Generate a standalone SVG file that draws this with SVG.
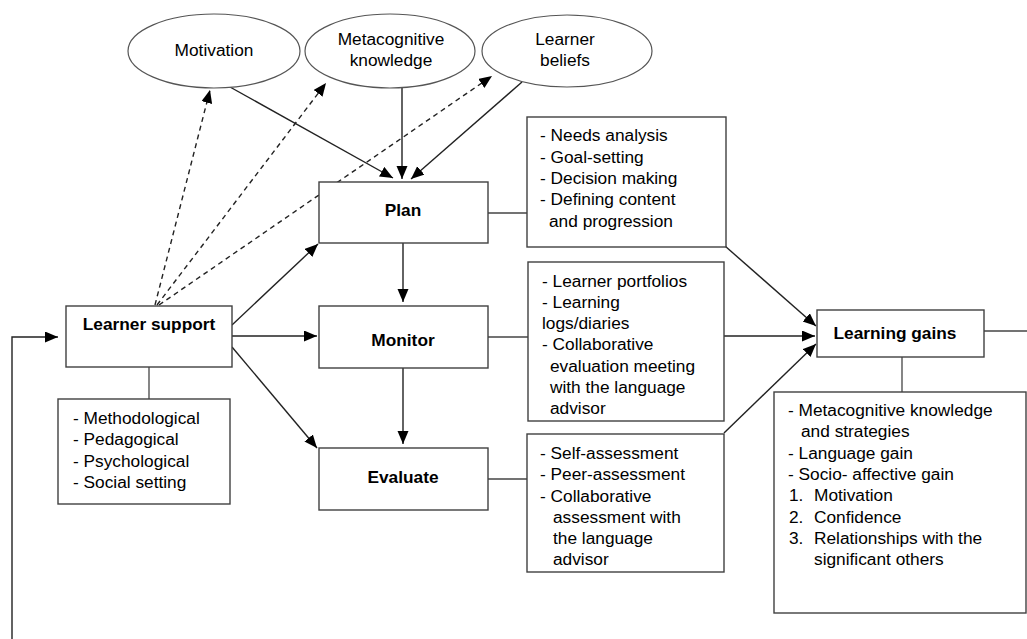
<svg xmlns="http://www.w3.org/2000/svg" width="1027" height="639" viewBox="0 0 1027 639">
<style>
text{font-family:"Liberation Sans",Arial,sans-serif;font-size:17.3px;fill:#000}
.b{font-weight:bold}
.m{text-anchor:middle}
.box{fill:#fff;stroke:#404040;stroke-width:1.4}
.ell{fill:#fff;stroke:#555;stroke-width:1.2}
.c{fill:none;stroke:#222;stroke-width:1.4}
.d{fill:none;stroke:#222;stroke-width:1.4;stroke-dasharray:5 4}
.l{fill:none;stroke:#444;stroke-width:1.3}
</style>
<defs>
<marker id="a" markerUnits="userSpaceOnUse" markerWidth="14" markerHeight="12" refX="13" refY="5.5" orient="auto">
<path d="M0,0 L13,5.5 L0,11 z" fill="#000"/>
</marker>
</defs>
<rect width="1027" height="639" fill="#fff"/>
<g id="connectors">
<line class="d" x1="155" y1="305" x2="210" y2="90" marker-end="url(#a)"/>
<line class="d" x1="157" y1="305" x2="326" y2="83" marker-end="url(#a)"/>
<line class="d" x1="159" y1="305" x2="492" y2="76" marker-end="url(#a)"/>
<line class="c" x1="230" y1="87" x2="393" y2="178" marker-end="url(#a)"/>
<line class="c" x1="402" y1="88" x2="402" y2="179" marker-end="url(#a)"/>
<line class="c" x1="522" y1="82" x2="411" y2="179" marker-end="url(#a)"/>
<line class="c" x1="232" y1="325" x2="318" y2="244" marker-end="url(#a)"/>
<line class="c" x1="232" y1="336" x2="317" y2="336" marker-end="url(#a)"/>
<line class="c" x1="232" y1="347" x2="317" y2="448" marker-end="url(#a)"/>
<line class="c" x1="403" y1="243" x2="403" y2="302" marker-end="url(#a)"/>
<line class="c" x1="403" y1="368" x2="403" y2="444" marker-end="url(#a)"/>
<line class="l" x1="488" y1="213" x2="527" y2="213"/>
<line class="l" x1="488" y1="337" x2="528" y2="337"/>
<line class="l" x1="488" y1="479" x2="527" y2="479"/>
<line class="l" x1="149" y1="367" x2="149" y2="399"/>
<line class="c" x1="725" y1="246" x2="816" y2="326" marker-end="url(#a)"/>
<line class="c" x1="724" y1="336" x2="815" y2="336" marker-end="url(#a)"/>
<line class="c" x1="724" y1="433" x2="816" y2="344" marker-end="url(#a)"/>
<line class="l" x1="902" y1="357" x2="902" y2="392"/>
<line class="l" x1="984" y1="331" x2="1027" y2="331"/>
<polyline class="c" points="12,639 12,337 58,337" stroke="#555" marker-end="url(#a)"/>
</g>
<g id="motivation">
<ellipse class="ell" cx="214" cy="51" rx="86" ry="37"/>
<text class="m" x="214" y="56">Motivation</text>
</g>
<g id="metacognitive">
<ellipse class="ell" cx="390" cy="51" rx="85" ry="37"/>
<text class="m" x="391" y="45">Metacognitive</text>
<text class="m" x="391" y="66">knowledge</text>
</g>
<g id="beliefs">
<ellipse class="ell" cx="567" cy="51" rx="85" ry="36"/>
<text class="m" x="565" y="45">Learner</text>
<text class="m" x="565" y="66">beliefs</text>
</g>
<g id="plan">
<rect class="box" x="319" y="182" width="169" height="61"/>
<text class="m b" x="403" y="216">Plan</text>
</g>
<g id="plan-details">
<rect class="box" x="527" y="117" width="199" height="130"/>
<text x="540" y="141">- Needs analysis</text>
<text x="540" y="163">- Goal-setting</text>
<text x="540" y="184">- Decision making</text>
<text x="540" y="205">- Defining content</text>
<text x="549" y="227">and progression</text>
</g>
<g id="monitor">
<rect class="box" x="319" y="306" width="169" height="62"/>
<text class="m b" x="403" y="346">Monitor</text>
</g>
<g id="monitor-details">
<rect class="box" x="528" y="262" width="196" height="159"/>
<text x="542" y="287">- Learner portfolios</text>
<text x="542" y="308">- Learning</text>
<text x="542" y="329">logs/diaries</text>
<text x="542" y="350">- Collaborative</text>
<text x="550" y="372">evaluation meeting</text>
<text x="550" y="393">with the language</text>
<text x="550" y="414">advisor</text>
</g>
<g id="evaluate">
<rect class="box" x="319" y="448" width="169" height="62"/>
<text class="m b" x="403" y="483">Evaluate</text>
</g>
<g id="evaluate-details">
<rect class="box" x="527" y="434" width="197" height="138"/>
<text x="540" y="459">- Self-assessment</text>
<text x="540" y="480">- Peer-assessment</text>
<text x="540" y="502">- Collaborative</text>
<text x="553" y="523">assessment with</text>
<text x="553" y="544">the language</text>
<text x="553" y="565">advisor</text>
</g>
<g id="learner-support">
<rect class="box" x="66" y="306" width="166" height="61"/>
<text class="m b" x="149" y="330">Learner support</text>
</g>
<g id="support-details">
<rect class="box" x="58" y="399" width="172" height="105"/>
<text x="73" y="424">- Methodological</text>
<text x="73" y="445">- Pedagogical</text>
<text x="73" y="467">- Psychological</text>
<text x="73" y="488">- Social setting</text>
</g>
<g id="learning-gains">
<rect class="box" x="817" y="310" width="167" height="47"/>
<text class="m b" x="895" y="339">Learning gains</text>
</g>
<g id="gains-details">
<rect class="box" x="774" y="392" width="252" height="221"/>
<text x="788" y="416">- Metacognitive knowledge</text>
<text x="801" y="437">and strategies</text>
<text x="788" y="459">- Language gain</text>
<text x="788" y="480">- Socio- affective gain</text>
<text x="789" y="501">1.</text><text x="814" y="501">Motivation</text>
<text x="789" y="523">2.</text><text x="814" y="523">Confidence</text>
<text x="789" y="544">3.</text><text x="814" y="544">Relationships with the</text>
<text x="814" y="565">significant others</text>
</g>
</svg>
